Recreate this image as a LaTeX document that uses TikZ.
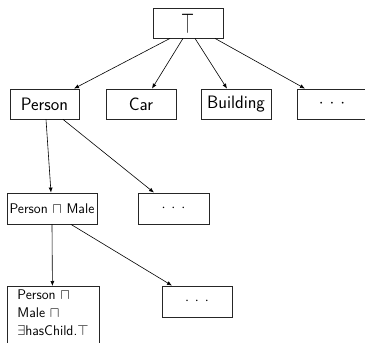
\documentclass[tikz,border=0pt]{standalone}
\usepackage{graphicx}
\usetikzlibrary{arrows.meta}
\tikzset{
  box/.style={draw=black!85, line width=0.8pt, minimum height=30pt, inner sep=0pt, font=\sffamily\fontsize{18}{21}\selectfont},
  sbox/.style={draw=black!85, line width=0.8pt, minimum height=31pt, inner sep=0pt, font=\sffamily\fontsize{14}{18}\selectfont},
  conn/.style={draw=black, line width=0.6pt, -{Latex[length=5pt,width=4pt]}},
}
\newcommand{\mydots}{$\cdot$\hspace{6pt}$\cdot$\hspace{6pt}$\cdot$}
\begin{document}
\begin{tikzpicture}[x=1pt,y=-1pt]
\useasboundingbox (0,0) rectangle (365,343);
\clip (0,0) rectangle (365,343);
\node[box, minimum width=70pt] (top) at (188,23) {\resizebox{13pt}{20pt}{$\top$}};
\node[box, minimum width=69pt] (person) at (44.5,104) {Person};
\node[box, minimum width=70pt] (car) at (141,104) {Car};
\node[box, minimum width=70pt] (building) at (236,104) {Building};
\node[box, minimum width=76pt] (dotsa) at (335,104) {\hspace{-6pt}\mydots};
\node[sbox, minimum width=90pt] (pm) at (52,208.5) {Person $\sqcap$ Male};
\node[sbox, minimum width=71pt] (dotsb) at (173.5,208.5) {\mydots};
\node[sbox, minimum width=70pt] (dotsc) at (197,301.5) {\mydots};
\node[sbox, anchor=north west, text width=72pt, inner xsep=10pt, inner ysep=3pt, align=left] (pmh) at (7,286) {Person $\sqcap$\\ Male $\sqcap$\\ $\exists$hasChild.$\top$\\ \rule{0pt}{20pt}};
\draw[conn] ([xshift=-18pt]top.south) -- ([xshift=29.5pt]person.north);
\draw[conn] ([xshift=-5pt]top.south) -- ([xshift=11pt]car.north);
\draw[conn] ([xshift=7pt]top.south) -- ([xshift=-9pt]building.north);
\draw[conn] ([xshift=27pt]top.south) -- ([xshift=-30pt]dotsa.north);
\draw[conn] ([xshift=1.5pt]person.south) -- ([xshift=-1pt]pm.north);
\draw[conn] ([xshift=18.5pt]person.south) -- ([xshift=-19.5pt]dotsb.north);
\draw[conn] (pm.south) -- ([xshift=-1pt]pmh.north);
\draw[conn] ([xshift=19pt]pm.south) -- ([xshift=-25pt]dotsc.north);
\end{tikzpicture}
\end{document}
